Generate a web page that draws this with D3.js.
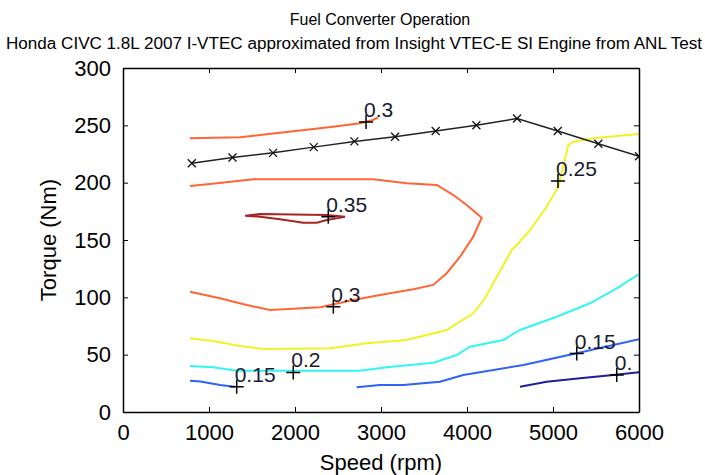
<!DOCTYPE html>
<meta charset="utf-8">
<style>
  body { margin: 0; background: #fff; }
  text { font-family: "Liberation Sans", Arial, sans-serif; fill: #000; }
  .axis path, .axis line { stroke: #000; }
  .axis text { font-size: 22px; }
</style>
<body>
<script src="https://d3js.org/d3.v7.min.js"></script>
<script>
  // max torque curve (rpm, Nm)
  var maxSpeed = [800, 1273, 1745, 2218, 2691, 3164, 3636, 4109, 4582, 5055, 5527, 6000];
  var maxTorque = [217, 222, 226, 231, 236, 240, 245, 250, 256, 245, 234, 223];

  // efficiency contour segments, [rpm, Nm]
  var c010 = [[4616, 22.1], [4927, 26.4], [5314, 29.4], [5701, 32.3], [6000, 34.6]];
  var c015a = [[779, 27.3], [900, 26.5], [1128, 23.5], [1300, 22]];
  var c015b = [[2717, 21.5], [2988, 23.5], [3259, 23.5], [3686, 26.4], [3957, 32.3],
    [4655, 41.0], [5276, 51.2], [6000, 63.4]];
  var c020 = [[779, 40.1], [1050, 39.0], [1322, 36.0], [1942, 36.0], [2756, 36.0], [3066, 39.0],
    [3608, 43.0], [3880, 49.7], [4035, 56.9], [4422, 62.8], [4616, 71.5], [5043, 83.1],
    [5430, 94.8], [5741, 107.9], [6000, 120.3]];
  var c025 = [[779, 64.3], [1050, 61.9], [1360, 57.6], [1631, 54.9], [2407, 55.5], [2834, 59.9],
    [3299, 62.8], [3764, 71.5], [4073, 86.1], [4209, 99.2], [4326, 115.1], [4520, 141.3],
    [4578, 145.6], [4733, 158.7], [4927, 179.0], [5062, 196.5], [5101, 209.3], [5178, 232.8],
    [5236, 235.7], [5469, 238.7], [5741, 240.7], [6000, 242.4]];
  var c030a = [[779, 238.7], [1360, 239.6], [1593, 241.6], [2058, 245.4], [2442, 248.8],
    [2756, 251.8], [2907, 254.7], [2965, 257.0]];
  var c030b = [[779, 197.1], [1012, 198.8], [1515, 202.9], [2910, 202.9], [3299, 199.4],
    [3648, 198.0], [3841, 189.2], [3997, 180.5], [4171, 169.4], [4073, 152.9], [3919, 135.4],
    [3764, 121.0], [3608, 110.8], [3376, 107.0], [2988, 102.0], [2678, 97.7], [2291, 91.3],
    [1709, 89.0], [1438, 93.3], [1128, 99.2], [779, 104.9]];
  var c035 = [[1419, 171.2], [1593, 172.7], [2369, 171.8], [2581, 170.3], [2369, 167.4],
    [2252, 165.1], [2097, 165.1], [1826, 168.0], [1593, 170.3], [1419, 171.2]];

  var contours = [
    { level: 0.10, color: "#1f1f9c", pts: c010 },
    { level: 0.15, color: "#2f62f5", pts: c015a },
    { level: 0.15, color: "#2f62f5", pts: c015b },
    { level: 0.20, color: "#33f5f5", pts: c020 },
    { level: 0.25, color: "#f2f222", pts: c025 },
    { level: 0.30, color: "#ff6633", pts: c030a },
    { level: 0.30, color: "#ff6633", pts: c030b },
    { level: 0.35, color: "#a82424", pts: c035 }
  ];

  // clabel positions
  var labelText = ["0.3", "0.35", "0.3", "0.25", "0.2", "0.15", "0.15", "0."];
  var labelSpeed = [2826, 2387, 2446, 5058, 1980, 1322, 5276, 5741];
  var labelTorque = [253, 170.3, 91.8, 201.5, 34.5, 22, 51, 32.3];

  var xTicks = [0, 1000, 2000, 3000, 4000, 5000, 6000];
  var yTicks = [0, 50, 100, 150, 200, 250, 300];

  var margin = { top: 68, right: 66, bottom: 63, left: 123 },
    width = 705 - margin.left - margin.right,
    height = 475 - margin.top - margin.bottom;

  var x = d3.scaleLinear().domain([0, 6000]).range([0, width]);
  var y = d3.scaleLinear().domain([0, 300]).range([height, 0]);

  var svg = d3.select("body").append("svg")
    .attr("width", 705)
    .attr("height", 475);

  svg.append("text")
    .attr("x", 380).attr("y", 25)
    .attr("text-anchor", "middle")
    .style("font-size", "16px")
    .text("Fuel Converter Operation");
  svg.append("text")
    .attr("x", 354).attr("y", 49)
    .attr("text-anchor", "middle")
    .attr("textLength", 696)
    .attr("lengthAdjust", "spacingAndGlyphs")
    .style("font-size", "16px")
    .text("Honda CIVC 1.8L 2007 I-VTEC approximated from Insight VTEC-E SI Engine from ANL Test");

  var g = svg.append("g")
    .attr("transform", "translate(" + margin.left + "," + margin.top + ")");

  g.append("clipPath").attr("id", "clip")
    .append("rect").attr("width", width).attr("height", height);

  var plot = g.append("g").attr("clip-path", "url(#clip)");

  var line = d3.line()
    .x(function (d) { return x(d[0]); })
    .y(function (d) { return y(d[1]); });

  plot.selectAll(".contour")
    .data(contours)
    .enter().append("path")
    .attr("class", "contour")
    .attr("fill", "none")
    .attr("stroke", function (d) { return d.color; })
    .attr("stroke-width", 2)
    .attr("d", function (d) { return line(d.pts); });

  var maxPts = d3.zip(maxSpeed, maxTorque);
  plot.append("path")
    .attr("fill", "none")
    .attr("stroke", "#222")
    .attr("stroke-width", 1.5)
    .attr("d", line(maxPts));

  plot.selectAll(".xm")
    .data(maxPts)
    .enter().append("path")
    .attr("class", "xm")
    .attr("stroke", "#111")
    .attr("stroke-width", 1.3)
    .attr("transform", function (d) { return "translate(" + x(d[0]) + "," + y(d[1]) + ")"; })
    .attr("d", "M-4,-4L4,4M-4,4L4,-4");

  var labels = d3.range(labelText.length).map(function (i) {
    return { t: labelText[i], s: labelSpeed[i], q: labelTorque[i] };
  });

  plot.selectAll(".plus")
    .data(labels)
    .enter().append("path")
    .attr("class", "plus")
    .attr("stroke", "#000")
    .attr("stroke-width", 1.5)
    .attr("transform", function (d) { return "translate(" + x(d.s) + "," + y(d.q) + ")"; })
    .attr("d", "M-7,0L7,0M0,-7L0,7");

  plot.selectAll(".clabel")
    .data(labels)
    .enter().append("text")
    .attr("class", "clabel")
    .attr("x", function (d) { return x(d.s) - 2; })
    .attr("y", function (d) { return y(d.q) - 5; })
    .style("font-size", "21px")
    .style("fill", "#1a1a2e")
    .text(function (d) { return d.t; });

  // axes, ticks inside, box on
  var fmt = d3.format("d");
  g.append("g").attr("class", "axis")
    .attr("transform", "translate(0," + height + ")")
    .call(d3.axisBottom(x).tickValues(xTicks).tickFormat(fmt).tickSizeInner(-5).tickSizeOuter(0).tickPadding(12));
  g.append("g").attr("class", "axis")
    .call(d3.axisLeft(y).tickValues(yTicks).tickFormat(fmt).tickSizeInner(-5).tickSizeOuter(0).tickPadding(12));
  g.append("g").attr("class", "axis")
    .call(d3.axisTop(x).tickValues(xTicks).tickSizeInner(-5).tickSizeOuter(0).tickFormat(""));
  g.append("g").attr("class", "axis")
    .attr("transform", "translate(" + width + ",0)")
    .call(d3.axisRight(y).tickValues(yTicks).tickSizeInner(-5).tickSizeOuter(0).tickFormat(""));
  g.selectAll(".axis .domain").attr("stroke-width", 1.5);

  g.append("text")
    .attr("x", width / 2).attr("y", height + 58)
    .attr("text-anchor", "middle")
    .style("font-size", "22px")
    .text("Speed (rpm)");
  g.append("text")
    .attr("transform", "translate(-67," + (height / 2) + ") rotate(-90)")
    .attr("text-anchor", "middle")
    .style("font-size", "22px")
    .text("Torque (Nm)");
</script>
</body>
